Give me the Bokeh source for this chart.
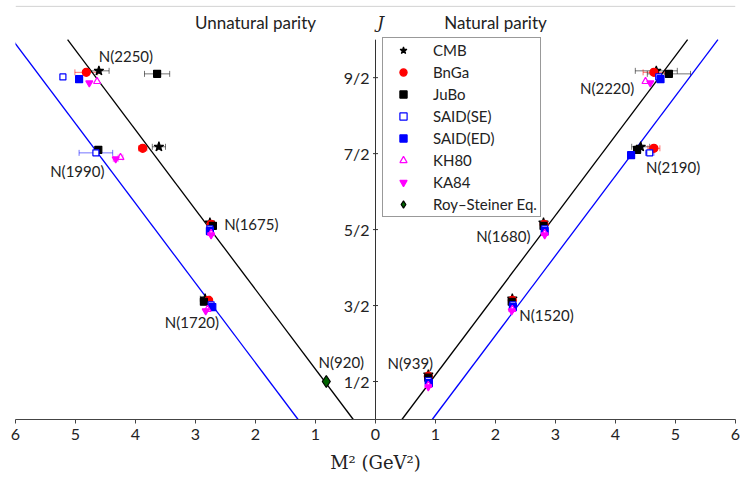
from bokeh.plotting import figure
from bokeh.models import ColumnDataSource, Whisker, TeeHead, Legend, LegendItem, FixedTicker, Span
from bokeh.core.properties import value
from bokeh.embed import file_html
from bokeh.resources import INLINE

# ---------------- data ----------------
states = ["N(939)", "N(1520)", "N(1680)", "N(2190)", "N(2220)",
          "N(920)", "N(1720)", "N(1675)", "N(1990)", "N(2250)"]
state_J = [0.5, 1.5, 2.5, 3.5, 4.5, 0.5, 1.5, 2.5, 3.5, 4.5]
# +1 natural parity (right half), -1 unnatural parity (left half)
state_parity = [1, 1, 1, 1, 1, -1, -1, -1, -1, -1]

# M^2 (GeV^2) per analysis, None = not given
m2_CMB     = [0.88, 2.28, 2.80, 4.42, 4.68, None, 2.84, 2.76, 3.61, 4.61]
m2_BnGa    = [0.88, 2.28, 2.81, 4.64, 4.64, None, 2.78, 2.74, 3.88, 4.82]
m2_JuBo    = [0.88, 2.27, 2.80, 4.36, 4.89, None, 2.86, 2.71, 4.62, 3.64]
m2_SAID_SE = [0.88, 2.29, 2.82, 4.57, 4.72, None, 2.74, 2.76, 4.66, 5.21]
m2_SAID_ED = [0.89, 2.29, 2.82, 4.26, 4.75, None, 2.72, 2.76, None, 4.94]
m2_KH80    = [0.88, 2.28, 2.82, None, 4.50, None, 2.80, 2.74, 4.25, 4.64]
m2_KA84    = [0.88, 2.27, 2.82, None, 4.58, None, 2.83, 2.74, 4.33, 4.77]
m2_RS      = [None, None, None, None, None, 0.82, None, None, None, None]

# horizontal uncertainties (GeV^2)
err_CMB     = [0, 0, 0, 0.15, 0.35, 0, 0.08, 0, 0.11, 0.17]
err_BnGa    = [0, 0, 0, 0.10, 0.18, 0, 0.04, 0, 0.07, 0.19]
err_JuBo    = [0, 0, 0, 0, 0.36, 0, 0, 0, 0, 0.21]
err_SAID_SE = [0, 0, 0, 0.07, 0, 0, 0, 0, 0.28, 0]
err_SAID_ED = [0, 0, 0, 0, 0, 0, 0, 0, 0, 0]
err_KH80    = [0, 0, 0, 0, 0, 0, 0, 0, 0.04, 0]
err_KA84    = [0, 0, 0, 0, 0, 0, 0, 0, 0.04, 0]
err_RS      = [0, 0, 0, 0, 0, 0, 0, 0, 0, 0]

# Regge trajectories: M^2 at J = 0 and slope dJ/dM^2
traj_m2_at_J0 = [0.37, 1.29, 0.44, 0.945]
traj_slope    = [1.05, 1.05, 1.05, 1.05]
traj_parity   = [-1, -1, 1, 1]
traj_color    = ["black", "blue", "black", "blue"]

x_ticks = [-6, -5, -4, -3, -2, -1, 0, 1, 2, 3, 4, 5, 6]
j_ticks = [0.5, 1.5, 2.5, 3.5, 4.5]
j_tick_labels = ["1/2", "3/2", "5/2", "7/2", "9/2"]

# ---------------- style ----------------
FONT = "Lato"
styles = {
    "CMB":              dict(marker="star", color="black", fill="black", size=10, dy=0.09),
    "BnGa":             dict(marker="circle", color="red", fill="red", size=8, dy=0.07),
    "JuBo":             dict(marker="square", color="black", fill="black", size=7, dy=0.05),
    "SAID(SE)":         dict(marker="square", color="blue", fill="white", size=6, dy=0.01),
    "SAID(ED)":         dict(marker="square", color="blue", fill="blue", size=7, dy=-0.02),
    "KH80":             dict(marker="triangle", color="magenta", fill="white", size=7, dy=-0.05),
    "KA84":             dict(marker="inverted_triangle", color="magenta", fill="magenta", size=7, dy=-0.07),
    "Roy\u2013Steiner Eq.": dict(marker="diamond", color="black", fill="#006400", size=12, dy=0.0),
}
datasets = [
    ("CMB", m2_CMB, err_CMB),
    ("BnGa", m2_BnGa, err_BnGa),
    ("JuBo", m2_JuBo, err_JuBo),
    ("SAID(SE)", m2_SAID_SE, err_SAID_SE),
    ("SAID(ED)", m2_SAID_ED, err_SAID_ED),
    ("KH80", m2_KH80, err_KH80),
    ("KA84", m2_KA84, err_KA84),
    ("Roy\u2013Steiner Eq.", m2_RS, err_RS),
]
# resonance label placement (data coords)
label_pos = {
    "N(939)": (0.58, 0.75), "N(1520)": (2.85, 1.37), "N(1680)": (2.13, 2.42),
    "N(2190)": (4.96, 3.32), "N(2220)": (3.86, 4.37),
    "N(920)": (-0.57, 0.76), "N(1720)": (-3.06, 1.28), "N(1675)": (-2.07, 2.57),
    "N(1990)": (-4.97, 3.27), "N(2250)": (-4.16, 4.78),
}

p = figure(width=741, height=480, x_range=(-6, 6), y_range=(0, 5.45),
           output_backend="svg", toolbar_location=None, y_axis_location=None,
           min_border_left=15, min_border_right=6, min_border_top=5, min_border_bottom=61)
p.grid.visible = False
p.outline_line_color = None
p.background_fill_color = "white"

# x axis
p.xaxis.ticker = FixedTicker(ticks=x_ticks)
p.xaxis.major_label_overrides = {t: str(abs(t)) for t in x_ticks}
p.xaxis.minor_tick_line_color = None
p.xaxis.major_tick_in = 0
p.xaxis.major_tick_out = 4
p.xaxis.axis_line_color = "#444444"
p.xaxis.major_tick_line_color = "#444444"
p.xaxis.major_label_text_font = FONT
p.xaxis.major_label_text_font_size = "16px"
p.xaxis.major_label_text_color = "#222222"
p.xaxis.major_label_standoff = 5
p.xaxis.axis_label = "M\u00b2 (GeV\u00b2)"
p.xaxis.axis_label_text_font = "DejaVu Serif"
p.xaxis.axis_label_text_font_style = "normal"
p.xaxis.axis_label_text_font_size = "18px"
p.xaxis.axis_label_text_color = "#222222"
p.xaxis.axis_label_standoff = 9

# faint top rule
p.add_layout(Span(location=5.44, dimension="width", line_color="#cccccc", line_width=1))

# centre J axis
p.segment(x0=[0], y0=[0], x1=[0], y1=[5], line_color="#333333", line_width=1)
p.scatter(x=[0] * len(j_ticks), y=j_ticks, marker="dash", size=5, line_color="#333333")
p.text(x=[0] * len(j_ticks), y=j_ticks, text=j_tick_labels, x_offset=-6,
       text_align="right", text_baseline="middle", text_font=value(FONT),
       text_font_size="16px", text_color="#222222")
p.text(x=[0.03], y=[5.23], text=["J"], text_align="left", text_baseline="middle",
       text_font=value("DejaVu Serif"), text_font_style="italic", text_font_size="17px",
       text_color="#222222")

# titles
p.text(x=[-2.0, 2.0], y=[5.23, 5.23], text=["Unnatural parity", "Natural parity"],
       text_align="center", text_baseline="middle", text_font=value(FONT),
       text_font_size="17px", text_color="#222222")

# Regge trajectories (J from 0 to 5)
for m0, s, par, col in zip(traj_m2_at_J0, traj_slope, traj_parity, traj_color):
    xs = [par * m0, par * (m0 + 5.0 / s)]
    p.line(xs, [0, 5], line_color=col, line_width=1.3)

# data points
legend_items = []
for name, m2, err in datasets:
    st = styles[name]
    xs, ys, lo, hi, ey = [], [], [], [], []
    for v, e, j, par in zip(m2, err, state_J, state_parity):
        if v is None:
            continue
        x = par * v
        y = j + st["dy"]
        xs.append(x); ys.append(y)
        if e:
            ey.append(y); lo.append(x - e); hi.append(x + e)
    if ey:
        wsrc = ColumnDataSource(dict(y=ey, lo=lo, hi=hi))
        w = Whisker(source=wsrc, base="y", lower="lo", upper="hi", dimension="width",
                    line_color=st["color"], line_alpha=0.55, line_width=1,
                    upper_head=TeeHead(size=6, line_color=st["color"], line_alpha=0.55),
                    lower_head=TeeHead(size=6, line_color=st["color"], line_alpha=0.55),
                    level="underlay")
        p.add_layout(w)
    r = p.scatter(x=xs, y=ys, marker=st["marker"], size=st["size"],
                  line_color=st["color"], fill_color=st["fill"], line_width=1.2)
    legend_items.append(LegendItem(label=name, renderers=[r]))

# resonance labels
p.text(x=[label_pos[s][0] for s in states], y=[label_pos[s][1] for s in states], text=states,
       text_align="center", text_baseline="middle", text_font=value(FONT),
       text_font_size="15px", text_color="#222222")

legend = Legend(items=legend_items, location=(367, 202), padding=3, spacing=4,
                glyph_width=34, glyph_height=18, label_height=18, label_standoff=13,
                label_text_font=FONT, label_text_font_size="15px", label_text_color="#222222",
                border_line_color="#333333", border_line_width=1, background_fill_alpha=1.0,
                margin=0)
p.add_layout(legend, "center")

open("out.html", "w").write(file_html(p, INLINE))
